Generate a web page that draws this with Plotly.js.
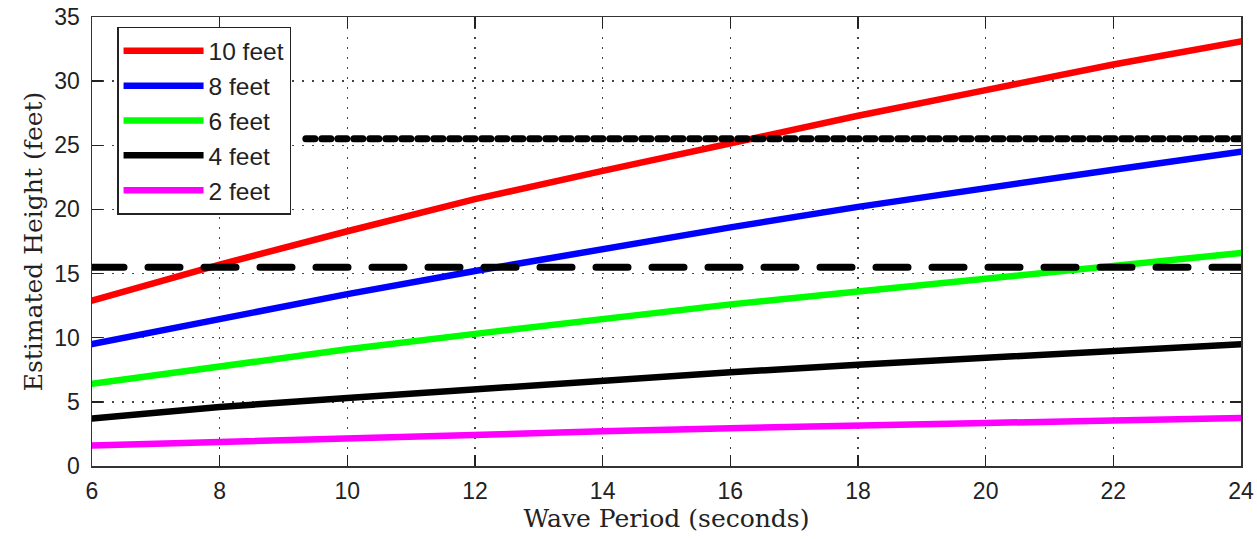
<!DOCTYPE html>
<html>
<head>
<meta charset="utf-8">
<script src="https://cdn.plot.ly/plotly-3.0.1.min.js"></script>
<style>
  html, body { margin: 0; padding: 0; background: #fff; }
  #chart { width: 1257px; height: 539px; }
  /* rounded ends on the plotted curves and reference levels */
  #chart .scatterlayer path.js-line { stroke-linecap: round; }
</style>
</head>
<body>
<div id="chart"></div>
<script>
// Wave period (seconds) at which each curve is sampled
const wavePeriod = [6, 8, 10, 12, 14, 16, 18, 20, 22, 24];

// Estimated height (feet) for each observed wave size
const height10ft = [12.9, 15.7, 18.3, 20.8, 23.0, 25.2, 27.3, 29.3, 31.3, 33.1];
const height8ft  = [9.5, 11.5, 13.4, 15.2, 16.95, 18.6, 20.2, 21.7, 23.1, 24.5];
const height6ft  = [6.4, 7.8, 9.1, 10.3, 11.5, 12.6, 13.6, 14.6, 15.6, 16.6];
const height4ft  = [3.7, 4.6, 5.3, 6.0, 6.7, 7.3, 7.9, 8.45, 9.0, 9.5];
const height2ft  = [1.6, 1.9, 2.2, 2.5, 2.7, 2.95, 3.2, 3.35, 3.55, 3.75];

const seriesNames = ['10 feet', '8 feet', '6 feet', '4 feet', '2 feet'];
const seriesColors = ['#ff0000', '#0000ff', '#00ff00', '#000000', '#ff00ff'];

// Horizontal reference levels (feet) and the period span they cover
const lowerLevel = 15.5;
const lowerLevelSpan = [6, 24];
const upperLevel = 25.5;
const upperLevelSpan = [9.35, 24];

const xTicks = [6, 8, 10, 12, 14, 16, 18, 20, 22, 24];
const yTicks = [0, 5, 10, 15, 20, 25, 30, 35];

const seriesValues = [height10ft, height8ft, height6ft, height4ft, height2ft];

const traces = seriesValues.map((vals, i) => ({
  type: 'scatter',
  mode: 'lines',
  x: wavePeriod,
  y: vals,
  name: seriesNames[i],
  line: { color: seriesColors[i], width: 6.5 },
  hoverinfo: 'skip'
}));

traces.push({
  type: 'scatter',
  mode: 'lines',
  x: lowerLevelSpan,
  y: [lowerLevel, lowerLevel],
  showlegend: false,
  line: { color: '#000000', width: 7, dash: '32px,24px' },
  hoverinfo: 'skip'
});

traces.push({
  type: 'scatter',
  mode: 'lines',
  x: upperLevelSpan,
  y: [upperLevel, upperLevel],
  showlegend: false,
  line: { color: '#000000', width: 7, dash: '9px,7px' },
  hoverinfo: 'skip'
});

const tickFont = { family: 'Liberation Sans, Arial, sans-serif', size: 23, color: '#222' };
const titleFont = { family: 'DejaVu Serif, Liberation Serif, serif', size: 25, color: '#222' };

const layout = {
  width: 1257,
  height: 539,
  margin: { l: 92, r: 16, t: 17, b: 73 },
  paper_bgcolor: '#ffffff',
  plot_bgcolor: '#ffffff',
  showlegend: true,
  legend: {
    x: 0.0218,
    y: 0.978,
    xanchor: 'left',
    yanchor: 'top',
    bgcolor: '#ffffff',
    bordercolor: '#222',
    borderwidth: 1.5,
    font: { family: 'Liberation Sans, Arial, sans-serif', size: 24.5, color: '#222' },
    itemwidth: 80,
    traceorder: 'normal'
  },
  xaxis: {
    range: [6, 24],
    tickvals: xTicks,
    ticktext: xTicks.map(String),
    tickfont: tickFont,
    ticks: 'inside',
    ticklen: 11,
    tickwidth: 1.5,
    tickcolor: '#222',
    showline: true,
    linecolor: '#333',
    linewidth: 1.5,
    mirror: 'ticks',
    showgrid: true,
    gridcolor: '#444',
    gridwidth: 1.5,
    griddash: '2px,8px',
    zeroline: false,
    ticklabelstandoff: 4,
    title: { text: 'Wave Period (seconds)', font: titleFont, standoff: 6 }
  },
  yaxis: {
    range: [0, 35],
    tickvals: yTicks,
    ticktext: yTicks.map(String),
    tickfont: tickFont,
    ticks: 'inside',
    ticklen: 11,
    tickwidth: 1.5,
    tickcolor: '#222',
    showline: true,
    linecolor: '#333',
    linewidth: 1.5,
    mirror: 'ticks',
    showgrid: true,
    gridcolor: '#444',
    gridwidth: 1.5,
    griddash: '2px,8px',
    zeroline: false,
    ticklabelstandoff: 6,
    title: { text: 'Estimated Height (feet)', font: titleFont, standoff: 4 }
  }
};

Plotly.newPlot('chart', traces, layout, { displayModeBar: false, staticPlot: true });
</script>
</body>
</html>
